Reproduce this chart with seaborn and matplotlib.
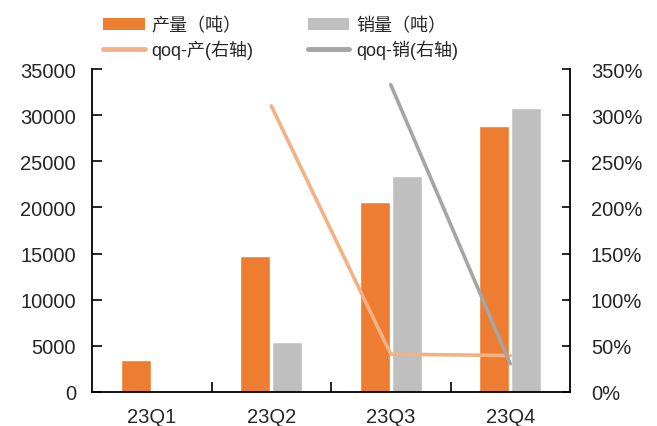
import numpy as np
import pandas as pd
import matplotlib
matplotlib.use("Agg")
import matplotlib.pyplot as plt
import seaborn as sns
from matplotlib.patches import Patch
from matplotlib.lines import Line2D
from matplotlib.ticker import FuncFormatter, MultipleLocator

# ---- data ----
quarters = ["23Q1", "23Q2", "23Q3", "23Q4"]
production = [3500, 14750, 20600, 28800]          # 产量（吨）
sales = [np.nan, 5450, 23400, 30780]             # 销量（吨）
qoq_prod = [np.nan, 3.10, 0.41, 0.395]           # qoq-产(右轴)
qoq_sales = [np.nan, np.nan, 3.33, 0.305]        # qoq-销(右轴)

lab_prod = "产量（吨）"
lab_sales = "销量（吨）"
lab_qp = "qoq-产(右轴)"
lab_qs = "qoq-销(右轴)"

c_prod = "#ED7D31"
c_sales = "#BFBFBF"
c_qp = "#F4B183"
c_qs = "#A5A5A5"

sns.set_style("white")
plt.rcParams["font.family"] = ["Liberation Sans", "Noto Sans CJK SC", "DejaVu Sans"]

df = pd.DataFrame({
    "quarter": quarters * 2,
    "value": production + sales,
    "series": [lab_prod] * 4 + [lab_sales] * 4,
})

fig = plt.figure(figsize=(6.57, 4.27), dpi=100)
ax = fig.add_axes([92 / 657, 1 - 393 / 427, (570 - 92) / 657, (393 - 70) / 427])

sns.barplot(data=df, x="quarter", y="value", hue="series", order=quarters,
            hue_order=[lab_prod, lab_sales], palette=[c_prod, c_sales],
            saturation=1, errorbar=None, width=0.5333, gap=0.0625,
            legend=False, ax=ax)

ax.set_xlim(-0.5, 3.5)
ax.set_ylim(0, 35000)
ax.yaxis.set_major_locator(MultipleLocator(5000))
ax.set_xlabel("")
ax.set_ylabel("")
for s in ["left", "bottom"]:
    ax.spines[s].set_color("black")
    ax.spines[s].set_linewidth(1.3)
ax.spines["top"].set_visible(False)
ax.spines["right"].set_visible(False)
ax.tick_params(axis="y", direction="in", length=7, width=1.2, color="black",
               labelsize=14.5, pad=11.5, left=True)
ax.tick_params(axis="x", which="major", length=0, labelsize=14.5, pad=11)
ax.set_xticks([0.5, 1.5, 2.5], minor=True)
ax.tick_params(axis="x", which="minor", direction="in", length=7, width=1.2,
               color="black", bottom=True)

ax2 = ax.twinx()
xpos = np.arange(len(quarters))
line_df = pd.DataFrame({"x": xpos, "qp": qoq_prod, "qs": qoq_sales})
sns.lineplot(data=line_df, x="x", y="qp", color=c_qp, linewidth=2.6, ax=ax2)
sns.lineplot(data=line_df, x="x", y="qs", color=c_qs, linewidth=2.6, ax=ax2)
ax2.set_xlim(-0.5, 3.5)
ax2.set_ylim(0, 3.5)
ax2.yaxis.set_major_locator(MultipleLocator(0.5))
ax2.yaxis.set_major_formatter(FuncFormatter(lambda v, p: f"{v*100:.0f}%"))
ax2.set_xlabel("")
ax2.set_ylabel("")
for s in ["top", "left", "bottom"]:
    ax2.spines[s].set_visible(False)
ax2.spines["right"].set_color("black")
ax2.spines["right"].set_linewidth(1.3)
ax2.tick_params(axis="y", direction="in", length=6, width=1.2, color="black",
                labelsize=14.5, pad=15, right=True)

handles = [
    Patch(facecolor=c_prod, edgecolor="none"),
    Line2D([], [], color=c_qp, linewidth=3.5),
    Patch(facecolor=c_sales, edgecolor="none"),
    Line2D([], [], color=c_qs, linewidth=3.5),
]
labels = [lab_prod, lab_qp, lab_sales, lab_qs]
fig.legend(handles, labels, ncol=2, loc="upper left",
           bbox_to_anchor=(103 / 657, 0.957), frameon=False, fontsize=13,
           handlelength=2.3, handleheight=0.6, handletextpad=0.4,
           columnspacing=3.0, labelspacing=0.3, borderpad=0, borderaxespad=0)

fig.savefig("out.png", dpi=100)
